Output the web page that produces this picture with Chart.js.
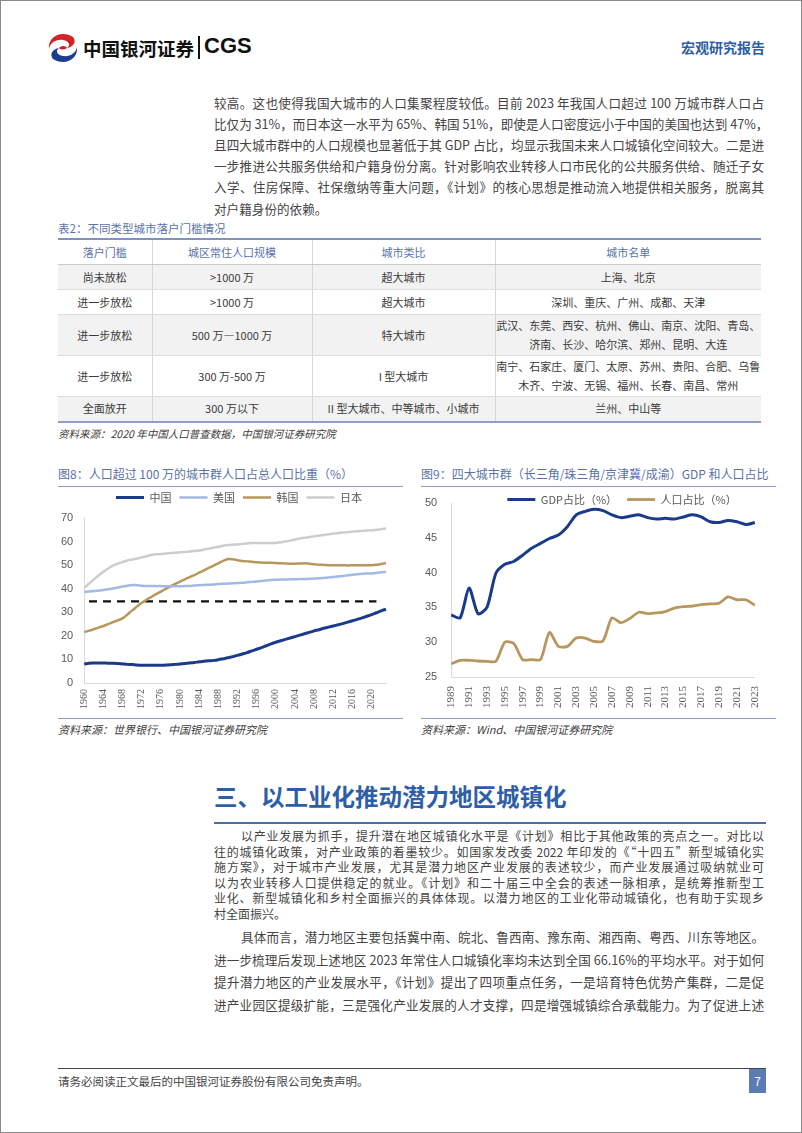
<!DOCTYPE html>
<html lang="zh-CN">
<head>
<meta charset="utf-8">
<script src="https://cdn.jsdelivr.net/npm/chart.js@4.4.1/dist/chart.umd.min.js"></script>
<style>
  html, body { margin: 0; padding: 0; background: #fff; }
  #page {
    position: relative; width: 802px; height: 1133px; box-sizing: border-box;
    border: 1px solid #8a8a8a; overflow: hidden;
    font-family: "Noto Sans CJK SC", "Noto Sans", sans-serif; color: #333;
  }
  .abs { position: absolute; white-space: nowrap; }
  .ln { position: absolute; white-space: nowrap; text-align: justify; text-align-last: justify; }
  .ln.last { text-align-last: left; }
  .p1 { font-size: 12.6px; height: 21px; line-height: 21px; color: #444; }
  .p2 { font-size: 12px; height: 16px; line-height: 16px; color: #444; }
  .p3 { font-size: 12.6px; height: 22px; line-height: 22px; color: #444; }
  .cap { font-size: 11.5px; color: #5a72a8; }
  .src { font-size: 10.5px; color: #404040; font-style: italic; }
  table { position: absolute; left: 57px; top: 237px; width: 703px; border-collapse: collapse;
    table-layout: fixed; font-size: 11px; color: #3a3a3a; }
  table td, table th { border-left: 1px solid #d6d6d6; border-right: 1px solid #d6d6d6; text-align: center;
    padding: 0; font-weight: normal; line-height: 19px; white-space: nowrap; overflow: hidden; }
  table tr:first-child th { border-top: 2px solid #7f93bd; color: #5a72a8; height: 24px; border-bottom: 1px solid #c9c9c9; }
  table tr td { border-bottom: 1px solid #dcdcdc; }
  table tr:last-child td { border-bottom: 2px solid #8ea0c6; }
  table td:first-child, table th:first-child { border-left: none; }
  table td:last-child, table th:last-child { border-right: none; }
  .g { background: #f2f2f2; }
  .rule { position: absolute; height: 0; }
  .chartbox { position: absolute; }
</style>
</head>
<body>
<div id="page">
  <!-- header -->
  <svg class="abs" style="left:46px;top:32px" width="32" height="30" viewBox="0 0 32 30">
    <path d="M16 1 C7 1 1 8 2 16 C3 10 9 6 16 7 C22 8 24 12 20 15 C26 14 30 9 26 4 C23 2 20 1 16 1 Z" fill="#d2232a"/>
    <path d="M16 29 C25 29 31 22 30 14 C29 20 23 24 16 23 C10 22 8 18 12 15 C6 16 2 21 6 26 C9 28 12 29 16 29 Z" fill="#1d3e8f"/>
    <path d="M12 15 C15 12 19 13 20 15 C17 17 14 17 12 15 Z" fill="#d2232a"/>
  </svg>
  <div class="abs" style="left:82px;top:34px;font-size:18.5px;font-weight:bold;color:#111">中国银河证券</div>
  <div class="abs" style="left:197px;top:35px;width:2px;height:23px;background:#111"></div>
  <div class="abs" style="left:203px;top:32px;font-size:22px;font-weight:bold;color:#111;font-family:'Liberation Sans',Arial,sans-serif">CGS</div>
  <div class="abs" style="left:680px;top:36px;font-size:14px;font-weight:bold;color:#2f5ea8">宏观研究报告</div>

  <!-- paragraph 1 -->
  <div id="p1"></div>

  <!-- table -->
  <div class="abs cap" style="left:57px;top:219px">表2：不同类型城市落户门槛情况</div>
  <table>
    <colgroup><col style="width:94px"><col style="width:160px"><col style="width:183px"><col style="width:266px"></colgroup>
    <tr><th>落户门槛</th><th>城区常住人口规模</th><th>城市类比</th><th>城市名单</th></tr>
    <tr class="g" style="height:25px"><td>尚未放松</td><td>&gt;1000 万</td><td>超大城市</td><td>上海、北京</td></tr>
    <tr style="height:25px"><td>进一步放松</td><td>&gt;1000 万</td><td>超大城市</td><td>深圳、重庆、广州、成都、天津</td></tr>
    <tr class="g" style="height:41px"><td>进一步放松</td><td>500 万—1000 万</td><td>特大城市</td><td>武汉、东莞、西安、杭州、佛山、南京、沈阳、青岛、<br>济南、长沙、哈尔滨、郑州、昆明、大连</td></tr>
    <tr style="height:41px"><td>进一步放松</td><td>300 万-500 万</td><td>I 型大城市</td><td>南宁、石家庄、厦门、太原、苏州、贵阳、合肥、乌鲁<br>木齐、宁波、无锡、福州、长春、南昌、常州</td></tr>
    <tr class="g" style="height:25px"><td>全面放开</td><td>300 万以下</td><td>II 型大城市、中等城市、小城市</td><td>兰州、中山等</td></tr>
  </table>
  <div class="abs src" style="left:57px;top:425px">资料来源：2020 年中国人口普查数据，中国银河证券研究院</div>

  <!-- chart titles -->
  <div class="abs cap" style="left:57px;top:464px;font-size:12px">图8：人口超过 100 万的城市群人口占总人口比重（%）</div>
  <div class="rule" style="left:57px;top:485px;width:345px;border-top:1.5px solid #8ea0c6"></div>
  <div class="abs cap" style="left:420px;top:464px;font-size:12px">图9：四大城市群（长三角/珠三角/京津冀/成渝）GDP 和人口占比</div>
  <div class="rule" style="left:420px;top:485px;width:355px;border-top:1.5px solid #8ea0c6"></div>

  <div class="chartbox" style="left:57px;top:483px;width:346px;height:233px"><canvas id="c1" width="346" height="233"></canvas></div>
  <div class="chartbox" style="left:418px;top:483px;width:358px;height:233px"><canvas id="c2" width="358" height="233"></canvas></div>

  <div class="rule" style="left:57px;top:717px;width:345px;border-top:1.5px solid #8ea0c6"></div>
  <div class="rule" style="left:420px;top:717px;width:355px;border-top:1.5px solid #8ea0c6"></div>
  <div class="abs src" style="left:57px;top:720px;font-size:11px">资料来源：世界银行、中国银河证券研究院</div>
  <div class="abs src" style="left:420px;top:720px;font-size:11px">资料来源：Wind、中国银河证券研究院</div>

  <!-- section heading -->
  <div class="abs" style="left:213px;top:778px;font-size:23.5px;font-weight:bold;color:#2f5ea8">三、以工业化推动潜力地区城镇化</div>
  <div class="rule" style="left:213px;top:821px;width:552px;border-top:2px solid #4a6fa5"></div>

  <div id="p2"></div>
  <div id="p3"></div>

  <!-- footer -->
  <div class="rule" style="left:57px;top:1067px;width:708px;border-top:1.5px solid #444"></div>
  <div class="abs" style="left:57px;top:1072px;font-size:11.5px;color:#444">请务必阅读正文最后的中国银河证券股份有限公司免责声明。</div>
  <div class="abs" style="left:748px;top:1068px;width:17px;height:24px;background:#5b7bb5;color:#fff;font-size:12px;text-align:center;line-height:24px">7</div>
</div>

<script>
// ---------- body text ----------
const p1Lines = [
  "较高。这也使得我国大城市的人口集聚程度较低。目前 2023 年我国人口超过 100 万城市群人口占",
  "比仅为 31%，而日本这一水平为 65%、韩国 51%，即使是人口密度远小于中国的美国也达到 47%，",
  "且四大城市群中的人口规模也显著低于其 GDP 占比，均显示我国未来人口城镇化空间较大。二是进",
  "一步推进公共服务供给和户籍身份分离。针对影响农业转移人口市民化的公共服务供给、随迁子女",
  "入学、住房保障、社保缴纳等重大问题，《计划》的核心思想是推动流入地提供相关服务，脱离其",
  "对户籍身份的依赖。"
];
const p2Lines = [
  "以产业发展为抓手，提升潜在地区城镇化水平是《计划》相比于其他政策的亮点之一。对比以",
  "往的城镇化政策，对产业政策的着墨较少。如国家发改委 2022 年印发的《“十四五”新型城镇化实",
  "施方案》，对于城市产业发展，尤其是潜力地区产业发展的表述较少，而产业发展通过吸纳就业可",
  "以为农业转移人口提供稳定的就业。《计划》和二十届三中全会的表述一脉相承，是统筹推新型工",
  "业化、新型城镇化和乡村全面振兴的具体体现。以潜力地区的工业化带动城镇化，也有助于实现乡",
  "村全面振兴。"
];
const p3Lines = [
  "具体而言，潜力地区主要包括冀中南、皖北、鲁西南、豫东南、湘西南、粤西、川东等地区。",
  "进一步梳理后发现上述地区 2023 年常住人口城镇化率均未达到全国 66.16%的平均水平。对于如何",
  "提升潜力地区的产业发展水平，《计划》提出了四项重点任务，一是培育特色优势产集群，二是促",
  "进产业园区提级扩能，三是强化产业发展的人才支撑，四是增强城镇综合承载能力。为了促进上述"
];

function putLines(id, lines, cls, firstCenter, step, lastIsShort, indentFirst) {
  const host = document.getElementById(id);
  lines.forEach((t, i) => {
    const d = document.createElement("div");
    d.className = "ln " + cls + ((lastIsShort && i === lines.length - 1) ? " last" : "");
    const left = (indentFirst && i === 0) ? 240 : 213;
    d.style.left = left + "px";
    d.style.width = (763 - left) + "px";
    d.textContent = t;
    host.appendChild(d);
    const lh = d.offsetHeight;
    d.style.top = (firstCenter + i * step - lh / 2) + "px";
  });
}
putLines("p1", p1Lines, "p1", 101, 21.2, true, false);
putLines("p2", p2Lines, "p2", 835, 15.6, true, true);
putLines("p3", p3Lines, "p3", 936, 22.7, false, true);

// ---------- chart data ----------
const years1 = Array.from({ length: 64 }, (_, i) => 1960 + i);
const china = [
  8.0, 8.4, 8.5, 8.5, 8.5, 8.4, 8.4, 8.3, 8.1, 7.9,
  7.8, 7.6, 7.5, 7.5, 7.5, 7.5, 7.5, 7.6, 7.7, 7.9,
  8.1, 8.3, 8.5, 8.7, 9.0, 9.2, 9.4, 9.6, 9.9, 10.3,
  10.7, 11.2, 11.7, 12.3, 12.9, 13.6, 14.3, 15.0, 15.8, 16.6,
  17.3, 17.9, 18.5, 19.1, 19.7, 20.3, 20.9, 21.5, 22.1, 22.6,
  23.2, 23.7, 24.2, 24.7, 25.2, 25.8, 26.4, 27.0, 27.6, 28.3,
  29.0, 29.8, 30.6, 31.3
];
const usa = [
  38.6, 38.8, 39.0, 39.2, 39.5, 39.8, 40.1, 40.5, 40.9, 41.3,
  41.6, 41.5, 41.3, 41.2, 41.2, 41.1, 41.1, 41.0, 41.0, 41.0,
  41.0, 41.1, 41.2, 41.4, 41.5, 41.6, 41.7, 41.8, 42.0, 42.1,
  42.2, 42.3, 42.4, 42.5, 42.7, 42.9, 43.1, 43.3, 43.5, 43.7,
  43.8, 43.9, 43.9, 44.0, 44.0, 44.1, 44.1, 44.2, 44.3, 44.4,
  44.6, 44.8, 45.0, 45.2, 45.4, 45.7, 45.9, 46.1, 46.3, 46.5,
  46.5, 46.7, 47.0, 47.2
];
const korea = [
  21.6, 22.2, 22.8, 23.5, 24.2, 25.0, 25.8, 26.6, 27.4, 29.0,
  30.8, 32.4, 34.0, 35.3, 36.5, 37.7, 38.8, 39.9, 41.0, 42.1,
  43.0, 44.0, 44.9, 45.8, 46.8, 47.8, 48.8, 49.8, 50.8, 51.8,
  52.6, 52.5, 52.1, 51.8, 51.6, 51.4, 51.2, 51.1, 51.0, 51.0,
  50.9, 50.8, 50.7, 50.6, 50.6, 50.7, 50.8, 50.6, 50.4, 50.2,
  50.1, 50.0, 50.0, 50.0, 50.0, 49.9, 50.0, 50.0, 50.0, 50.0,
  50.0, 50.2, 50.5, 50.9
];
const japan = [
  40.4, 42.2, 43.9, 45.6, 47.2, 48.6, 49.8, 50.6, 51.3, 52.0,
  52.4, 52.8, 53.3, 53.8, 54.3, 54.6, 54.7, 54.9, 55.1, 55.3,
  55.4, 55.6, 55.8, 56.0, 56.2, 56.6, 57.0, 57.4, 57.8, 58.2,
  58.5, 58.7, 58.8, 59.0, 59.2, 59.4, 59.4, 59.4, 59.4, 59.4,
  59.4, 59.7, 60.0, 60.4, 60.9, 61.3, 61.6, 61.9, 62.2, 62.5,
  62.8, 63.1, 63.4, 63.6, 63.8, 64.0, 64.2, 64.4, 64.5, 64.7,
  64.8, 65.0, 65.2, 65.5
];
// dashed reference level and the years it spans
const refLevel = 34.6;
const refFrom = 1961, refTo = 2021;

const years2 = Array.from({ length: 35 }, (_, i) => 1989 + i);
const gdpShare = [
  33.9, 33.5, 37.8, 34.1, 35.0, 39.9, 41.2, 41.6, 42.5, 43.5,
  44.2, 44.9, 45.4, 46.6, 48.3, 48.8, 49.1, 48.9, 48.3, 47.9,
  48.1, 48.3, 47.9, 47.7, 47.8, 47.7, 48.0, 48.3, 48.0, 47.3,
  47.2, 47.5, 47.3, 46.9, 47.2
];
const popShare = [
  26.9, 27.4, 27.4, 27.3, 27.25, 27.25, 30.0, 29.8, 27.5, 27.5,
  27.5, 31.4, 29.4, 29.4, 30.6, 30.6, 30.1, 30.2, 33.5, 32.8,
  33.4, 34.3, 34.1, 34.2, 34.4, 34.9, 35.1, 35.2, 35.4, 35.5,
  35.6, 36.5, 36.1, 36.1, 35.3
];

// ---------- charts ----------
Chart.defaults.animation = false;
Chart.defaults.font.family = "'Liberation Sans', Arial, sans-serif";

function lineSet(label, data, color, width, tension) {
  return {
    label: label, data: data, borderColor: color, backgroundColor: color,
    borderWidth: width, pointRadius: 0, tension: tension, fill: false
  };
}

function legendOpts(pad) {
  return {
    position: "top",
    labels: {
      usePointStyle: true, pointStyle: "line", pointStyleWidth: 28,
      padding: pad, color: "#595959",
      font: { family: "'Noto Sans CJK SC', sans-serif", size: 11 },
      filter: (item) => item.text !== ""
    }
  };
}
const yTickFont = { family: "'Liberation Sans', Arial, sans-serif", size: 11 };

// change how much room the legend takes above the plot (it may overlap the plot top),
// then give the legend its full box back when drawing so the text is not clipped
const legendRoom = {
  id: "legendRoom",
  afterInit(chart, args, opts) {
    const legend = chart.legend;
    const fit = legend.fit.bind(legend);
    legend.fit = function () { fit(); this.height -= opts.trim; };
  },
  beforeDraw(chart, args, opts) {
    const legend = chart.legend;
    legend.height += opts.trim;
    legend.bottom += opts.trim;
    legend.left += opts.dx;
    legend.right += opts.dx;
  }
};

new Chart(document.getElementById("c1"), {
  type: "line",
  data: {
    labels: years1,
    datasets: [
      lineSet("中国", china, "#1c3a8c", 3, 0.35),
      lineSet("美国", usa, "#a3b9e4", 2.5, 0.35),
      lineSet("韩国", korea, "#b8975f", 2.5, 0.35),
      lineSet("日本", japan, "#cdcdcd", 2.5, 0.35),
      {
        label: "", data: years1.map(y => (y >= refFrom && y <= refTo) ? refLevel : null),
        borderColor: "#111", borderWidth: 2.2, borderDash: [8, 6], pointRadius: 0, fill: false
      }
    ]
  },
  plugins: [legendRoom],
  options: {
    responsive: false,
    layout: { padding: { top: 0, left: 0, right: 0, bottom: 2 } },
    plugins: { legend: legendOpts(8), tooltip: { enabled: false }, legendRoom: { trim: -5, dx: 8 } },
    scales: {
      x: {
        grid: { display: false, drawTicks: false }, border: { color: "#d9d9d9" },
        ticks: {
          autoSkip: false, minRotation: 90, maxRotation: 90, color: "#595959",
          font: { family: "'Liberation Serif', serif", size: 10 }, padding: 6,
          callback: function (v, i) { return (years1[i] - 1960) % 4 === 0 ? String(years1[i]) : ""; }
        }
      },
      y: {
        min: 0, max: 70, grid: { display: false }, border: { color: "#d9d9d9" },
        ticks: { stepSize: 10, color: "#595959", font: yTickFont, padding: 3 }
      }
    }
  }
});

new Chart(document.getElementById("c2"), {
  type: "line",
  data: {
    labels: years2,
    datasets: [
      lineSet("GDP占比（%）", gdpShare, "#1a3a8c", 3, 0.25),
      lineSet("人口占比（%）", popShare, "#b8975f", 2.8, 0.25)
    ]
  },
  plugins: [legendRoom],
  options: {
    responsive: false,
    layout: { padding: { top: 0, left: 0, right: 8, bottom: 0 } },
    plugins: { legend: legendOpts(10), tooltip: { enabled: false }, legendRoom: { trim: 12, dx: 28 } },
    scales: {
      x: {
        grid: { display: false, drawTicks: false }, border: { color: "#d9d9d9" },
        ticks: {
          autoSkip: false, minRotation: 90, maxRotation: 90, color: "#595959",
          font: { family: "'Liberation Serif', serif", size: 11 }, padding: 9,
          callback: function (v, i) { return (years2[i] - 1989) % 2 === 0 ? String(years2[i]) : ""; }
        }
      },
      y: {
        min: 25, max: 50, grid: { display: false }, border: { color: "#d9d9d9" },
        ticks: { stepSize: 5, color: "#595959", font: yTickFont, padding: 6 }
      }
    }
  }
});
</script>
</body>
</html>
